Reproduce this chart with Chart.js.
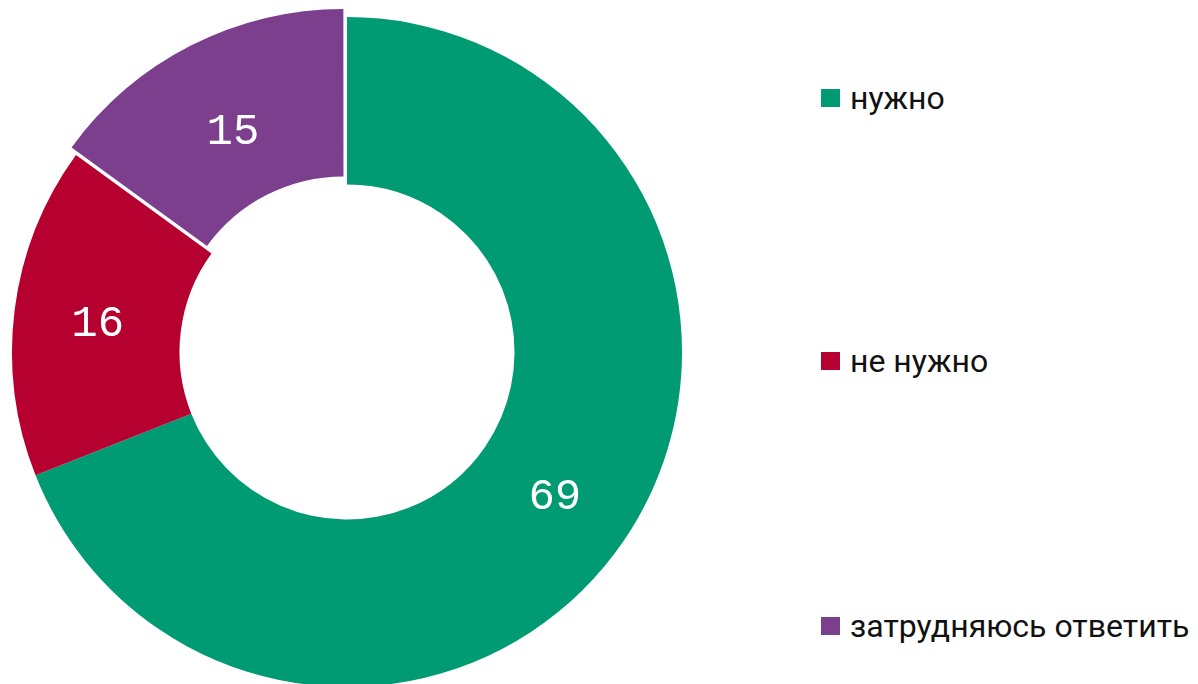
<!DOCTYPE html>
<html>
<head>
<meta charset="utf-8">
<script src="https://cdn.jsdelivr.net/npm/chart.js@4"></script>
<style>
  html, body { margin: 0; padding: 0; background: #fff; overflow: hidden; }
  #wrap { position: relative; width: 1198px; height: 684px; }
  #box { position: absolute; left: 0; top: 0; width: 694px; height: 704px; }
  .leg { position: absolute; left: 821px; display: flex; align-items: center;
         font-family: Roboto, "Liberation Sans", sans-serif; font-size: 32px; color: #111; }
  .leg i { display: inline-block; width: 19px; height: 18px; margin-right: 10px; }
</style>
</head>
<body>
<div id="wrap">
  <div id="box"><canvas id="chart"></canvas></div>
</div>
<script>
const labels = ['нужно', 'не нужно', 'затрудняюсь ответить'];
const values = [69, 16, 15];
const colors = ['#009b72', '#b50030', '#7b3f8e'];
// Chart.js v4 делит offset на 4 при отрисовке дуги
const offsets = [0, 0, 30];

// подписи значений внутри сегментов (по середине кольца, без учёта offset)
const valueLabels = {
    id: 'valueLabels',
    afterDatasetsDraw(chart) {
        const ctx = chart.ctx;
        const meta = chart.getDatasetMeta(0);
        ctx.save();
        ctx.fillStyle = '#fff';
        ctx.font = '44px "Liberation Mono", monospace';
        ctx.textAlign = 'center';
        ctx.textBaseline = 'middle';
        meta.data.forEach((arc, i) => {
            const p = arc.getProps(['x', 'y', 'startAngle', 'endAngle', 'innerRadius', 'outerRadius']);
            const a = (p.startAngle + p.endAngle) / 2;
            const r = (p.innerRadius + p.outerRadius) / 2;
            ctx.fillText(String(values[i]), p.x + Math.cos(a) * r, p.y + Math.sin(a) * r + 4);
        });
        ctx.restore();
    }
};

new Chart(document.getElementById('chart'), {
    type: 'doughnut',
    data: {
        labels: labels,
        datasets: [{
            data: values,
            backgroundColor: colors,
            borderWidth: 0,
            offset: offsets,
            clip: false
        }]
    },
    options: {
        responsive: true,
        maintainAspectRatio: false,
        animation: false,
        radius: 335,
        cutout: '50%',
        plugins: {
            legend: { display: false },
            tooltip: { enabled: false }
        }
    },
    plugins: [valueLabels]
});

// легенда справа
const legendY = [98, 361, 626];
const wrap = document.getElementById('wrap');
labels.forEach((l, i) => {
    const d = document.createElement('div');
    d.className = 'leg';
    d.style.top = (legendY[i] - 20) + 'px';
    d.style.height = '40px';
    d.innerHTML = '<i style="background:' + colors[i] + '"></i><span>' + l + '</span>';
    wrap.appendChild(d);
});
</script>
</body>
</html>
